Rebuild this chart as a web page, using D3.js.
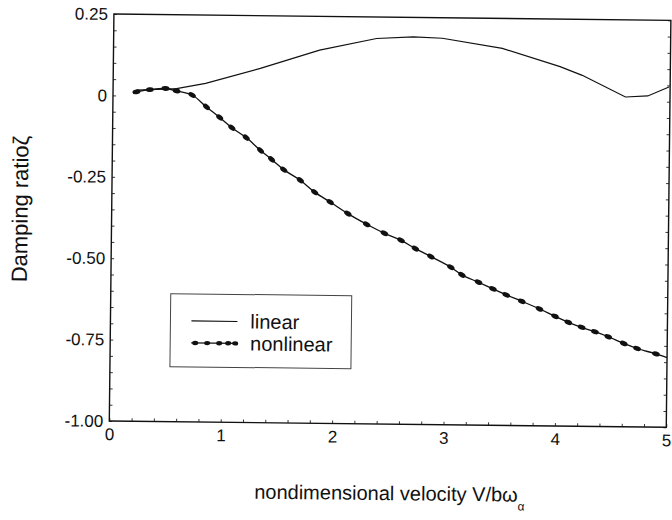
<!DOCTYPE html>
<html lang="en">
<head>
    <meta charset="UTF-8">
    <title>Damping ratio chart</title>
    <script src="https://d3js.org/d3.v7.min.js"></script>
    <style>
        body { margin: 0; background: #fff; }
        svg { display: block; background: #fff; }
        text { font-family: Arial, 'Liberation Sans', sans-serif; fill: #111; }
    </style>
</head>
<body>
    <div id="chart"></div>
    <script>
        // values
        var xTicks = [0, 1, 2, 3, 4, 5];
        var xTickLabels = ['0', '1', '2', '3', '4', '5'];
        var yTicks = [0.25, 0, -0.25, -0.5, -0.75, -1.0];
        var yTickLabels = ['0.25', '0', '-0.25', '-0.50', '-0.75', '-1.00'];

        var linearV = [0.21, 0.57, 0.83, 1.32, 1.85, 2.36, 2.69, 2.95, 3.49, 4.01, 4.21, 4.60, 4.80, 4.99];
        var linearZeta = [0.017, 0.023, 0.040, 0.088, 0.146, 0.184, 0.190, 0.187, 0.158, 0.104, 0.078, 0.013, 0.017, 0.045];

        var nonlinearV = [0.21, 0.33, 0.47, 0.57, 0.71, 0.84, 0.96, 1.07, 1.20, 1.33, 1.43, 1.54, 1.69, 1.82, 1.96,
                          2.12, 2.29, 2.45, 2.60, 2.73, 2.87, 3.05, 3.15, 3.30, 3.43, 3.55, 3.69, 3.85, 3.99, 4.11,
                          4.23, 4.35, 4.47, 4.61, 4.73, 4.90, 5.00];
        var nonlinearZeta = [0.012, 0.019, 0.023, 0.016, 0.004, -0.032, -0.064, -0.095, -0.125, -0.164, -0.191, -0.222, -0.254, -0.290, -0.320,
                             -0.355, -0.387, -0.414, -0.435, -0.460, -0.484, -0.516, -0.539, -0.561, -0.581, -0.599, -0.618, -0.641, -0.663, -0.681,
                             -0.696, -0.709, -0.724, -0.744, -0.759, -0.775, -0.786];

        var svgwidth = 672;
        var svgheight = 520;
        var pLeft = 113, pRight = 670, pTop = 14, pBottom = 421;

        var svg = d3.select('#chart')
            .append('svg')
            .attr('width', svgwidth)
            .attr('height', svgheight);

        // the scan is tilted slightly clockwise
        var g = svg.append('g')
            .attr('transform', 'rotate(0.65,113,95)');

        var x_scale = d3.scaleLinear().domain([0, 5]).range([pLeft, pRight]);
        var y_scale = d3.scaleLinear().domain([-1, 0.25]).range([pBottom, pTop]);

        // minor inward ticks
        g.append('g')
            .attr('transform', `translate(${pLeft},0)`)
            .call(d3.axisRight(y_scale).ticks(25).tickSize(3).tickFormat(''))
            .call(a => a.select('.domain').remove());
        g.append('g')
            .attr('transform', `translate(${pRight},0)`)
            .call(d3.axisLeft(y_scale).ticks(25).tickSize(3).tickFormat(''))
            .call(a => a.select('.domain').remove());
        g.append('g')
            .attr('transform', `translate(0,${pBottom})`)
            .call(d3.axisTop(x_scale).ticks(25).tickSize(3).tickFormat(''))
            .call(a => a.select('.domain').remove());
        g.selectAll('.tick line').attr('stroke', '#222').attr('stroke-width', 0.9);

        // frame
        g.append('rect')
            .attr('x', pLeft)
            .attr('y', pTop)
            .attr('width', pRight - pLeft)
            .attr('height', pBottom - pTop)
            .attr('fill', 'none')
            .attr('stroke', '#111')
            .attr('stroke-width', 1.4);

        // y tick labels
        var yAxis = g.append('g')
            .attr('transform', `translate(${pLeft},0)`)
            .call(d3.axisLeft(y_scale).tickValues(yTicks).tickSize(0).tickPadding(6)
                .tickFormat((d, i) => yTickLabels[i]));
        yAxis.select('.domain').remove();
        yAxis.selectAll('text')
            .style('font-size', '17px')
            .style('font-family', 'Arial, Liberation Sans, sans-serif')
            .attr('fill', '#111');

        // x tick labels
        var xAxis = g.append('g')
            .attr('transform', `translate(0,${pBottom})`)
            .call(d3.axisBottom(x_scale).tickValues(xTicks).tickSize(0).tickPadding(7)
                .tickFormat((d, i) => xTickLabels[i]));
        xAxis.select('.domain').remove();
        xAxis.selectAll('text')
            .style('font-size', '17px')
            .style('font-family', 'Arial, Liberation Sans, sans-serif')
            .attr('fill', '#111');

        // axis titles
        g.append('text')
            .attr('transform', 'translate(29,210) rotate(-90)')
            .attr('text-anchor', 'middle')
            .style('font-size', '22px')
            .text('Damping ratio\u03B6');

        var xt = g.append('text')
            .attr('x', 394)
            .attr('y', 497)
            .attr('text-anchor', 'middle')
            .style('font-size', '20px');
        xt.append('tspan').text('nondimensional velocity V/b\u03C9');
        xt.append('tspan').attr('dy', 9).style('font-size', '12px').text('\u03B1');

        // curves
        var linearData = linearV.map((v, i) => ({ v: v, z: linearZeta[i] }));
        var nonlinearData = nonlinearV.map((v, i) => ({ v: v, z: nonlinearZeta[i] }));

        var line = d3.line()
            .x(d => x_scale(d.v))
            .y(d => y_scale(d.z));

        g.append('path')
            .datum(linearData)
            .attr('d', line.curve(d3.curveLinear))
            .attr('fill', 'none')
            .attr('stroke', '#111')
            .attr('stroke-width', 1.2);

        g.append('path')
            .datum(nonlinearData)
            .attr('d', line.curve(d3.curveMonotoneX))
            .attr('fill', 'none')
            .attr('stroke', '#111')
            .attr('stroke-width', 1.3);

        // markers, oriented along the curve
        var markData = nonlinearData.slice(0, nonlinearData.length - 1);
        g.selectAll('.mk')
            .data(markData)
            .enter()
            .append('ellipse')
            .attr('class', 'mk')
            .attr('rx', 4)
            .attr('ry', 2.4)
            .attr('fill', '#111')
            .attr('transform', (d, i) => {
                var n = nonlinearData[i + 1];
                var p = i > 0 ? nonlinearData[i - 1] : d;
                var ang = Math.atan2(y_scale(n.z) - y_scale(p.z), x_scale(n.v) - x_scale(p.v)) * 180 / Math.PI;
                return `translate(${x_scale(d.v)},${y_scale(d.z)}) rotate(${ang})`;
            });

        // legend
        var lg = g.append('g');
        lg.append('rect')
            .attr('x', 173).attr('y', 293)
            .attr('width', 181).attr('height', 73)
            .attr('fill', '#fff')
            .attr('stroke', '#444')
            .attr('stroke-width', 1);
        lg.append('line')
            .attr('x1', 194).attr('x2', 240)
            .attr('y1', 320).attr('y2', 320)
            .attr('stroke', '#111').attr('stroke-width', 1.1);
        lg.append('line')
            .attr('x1', 194).attr('x2', 240)
            .attr('y1', 342).attr('y2', 342)
            .attr('stroke', '#111').attr('stroke-width', 1.3);
        [198, 210, 222, 231, 238].forEach(function(mx) {
            lg.append('ellipse')
                .attr('cx', mx).attr('cy', 342)
                .attr('rx', 3).attr('ry', 2.2)
                .attr('fill', '#111');
        });
        lg.append('text')
            .attr('x', 253).attr('y', 327)
            .style('font-size', '20px')
            .text('linear');
        lg.append('text')
            .attr('x', 253).attr('y', 349)
            .style('font-size', '20px')
            .text('nonlinear');
    </script>
</body>
</html>
